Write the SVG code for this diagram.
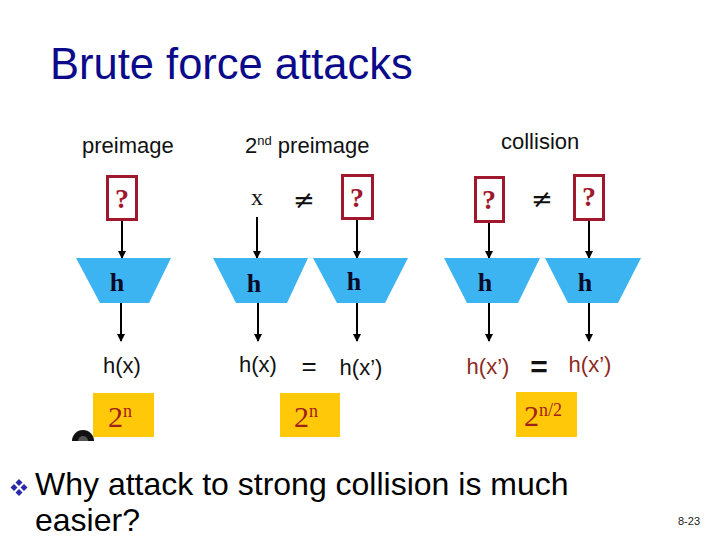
<svg xmlns="http://www.w3.org/2000/svg" width="720" height="540" viewBox="0 0 720 540">
<defs>
<style>
.title{font-family:"Liberation Sans",Arial,sans-serif;font-size:43.5px;fill:#0A0A8A}
.hdr{font-family:"Liberation Sans",Arial,sans-serif;font-size:22px;fill:#111}
.qbox{fill:#fff;stroke:#A0182E;stroke-width:3}
.q{font-family:"Liberation Serif","Times New Roman",serif;font-weight:bold;font-size:28px;fill:#A0182E;text-anchor:middle}
.trap{fill:#3DB4F2}
.h{font-family:"Liberation Serif","Times New Roman",serif;font-weight:bold;font-size:26px;fill:#0A0A28;text-anchor:middle}
.hx{font-family:"Liberation Sans",Arial,sans-serif;font-size:22px;fill:#111;text-anchor:middle}
.hxr{font-family:"Liberation Sans",Arial,sans-serif;font-size:22px;fill:#8E2A22;text-anchor:middle}
.ybox{fill:#FFC90A}
.pw{font-family:"Liberation Serif","Times New Roman",serif;font-size:30px;fill:#A0201A}
.sym{font-family:"DejaVu Sans",sans-serif;font-size:26px;fill:#111;text-anchor:middle}
.eq{font-family:"Liberation Sans",Arial,sans-serif;font-size:26px;fill:#111;text-anchor:middle}
.body{font-family:"Liberation Sans",Arial,sans-serif;font-size:32px;fill:#000}
.pg{font-family:"Liberation Sans",Arial,sans-serif;font-size:11px;fill:#222}
.conn line{stroke:#000;stroke-width:2}
</style>
<marker id="ah" markerWidth="8" markerHeight="8" refX="7" refY="4" orient="auto" markerUnits="userSpaceOnUse">
<path d="M0,0 L8,4 L0,8 Z" fill="#000"/>
</marker>
</defs>
<rect width="720" height="540" fill="#fff"/>
<text class="title" x="50" y="79">Brute force attacks</text>

<g id="headers">
<text class="hdr" x="82" y="153">preimage</text>
<text class="hdr" x="245" y="153">2<tspan font-size="13" dy="-8">nd</tspan><tspan dy="8"> preimage</tspan></text>
<text class="hdr" x="501" y="149">collision</text>
</g>

<g id="connectors" class="conn">
<line x1="122" y1="220" x2="122" y2="258" marker-end="url(#ah)"/>
<line x1="121" y1="303" x2="121" y2="341" marker-end="url(#ah)"/>
<line x1="257" y1="217" x2="257" y2="258" marker-end="url(#ah)"/>
<line x1="258" y1="303" x2="258" y2="341" marker-end="url(#ah)"/>
<line x1="357" y1="219" x2="357" y2="258" marker-end="url(#ah)"/>
<line x1="357" y1="303" x2="357" y2="341" marker-end="url(#ah)"/>
<line x1="489" y1="222" x2="489" y2="258" marker-end="url(#ah)"/>
<line x1="489" y1="303" x2="489" y2="341" marker-end="url(#ah)"/>
<line x1="589" y1="220" x2="589" y2="258" marker-end="url(#ah)"/>
<line x1="589" y1="303" x2="589" y2="341" marker-end="url(#ah)"/>
</g>

<g id="preimage-q">
<rect class="qbox" x="107.5" y="176.5" width="29" height="43"/>
<text class="q" x="122" y="208">?</text>
</g>
<g id="preimage-h">
<polygon class="trap" points="76,258 171,258 149,303 100,303"/>
<text class="h" x="117" y="291">h</text>
</g>
<g id="preimage-out">
<text class="hx" x="122" y="373">h(x)</text>
</g>
<g id="preimage-cost">
<rect class="ybox" x="93" y="393" width="61" height="44"/>
<text class="pw" x="108" y="427">2<tspan font-size="18" dy="-10">n</tspan></text>
</g>

<g id="second-x">
<text x="257" y="205" font-family="Liberation Serif, serif" font-size="24" fill="#111" text-anchor="middle">x</text>
</g>
<g id="second-neq"><text class="sym" x="304" y="209">≠</text></g>
<g id="second-q">
<rect class="qbox" x="342.5" y="175.5" width="30" height="43"/>
<text class="q" x="357" y="207">?</text>
</g>
<g id="second-h1">
<polygon class="trap" points="213,258 308,258 287,303 236,303"/>
<text class="h" x="254" y="292">h</text>
</g>
<g id="second-h2">
<polygon class="trap" points="313,258 408,258 385,303 337,303"/>
<text class="h" x="354" y="290">h</text>
</g>
<g id="second-out">
<text class="hx" x="258" y="372">h(x)</text>
<text class="eq" x="309" y="375">=</text>
<text class="hx" x="361" y="375">h(x’)</text>
</g>
<g id="second-cost">
<rect class="ybox" x="280" y="393" width="60" height="44"/>
<text class="pw" x="294" y="427">2<tspan font-size="18" dy="-10">n</tspan></text>
</g>

<g id="coll-q1">
<rect class="qbox" x="475.5" y="177.5" width="28" height="44"/>
<text class="q" x="489" y="209">?</text>
</g>
<g id="coll-neq"><text class="sym" x="542" y="208">≠</text></g>
<g id="coll-q2">
<rect class="qbox" x="574.5" y="175.5" width="29" height="44"/>
<text class="q" x="589" y="206">?</text>
</g>
<g id="coll-h1">
<polygon class="trap" points="444,258 540,258 518,303 467,303"/>
<text class="h" x="485" y="291">h</text>
</g>
<g id="coll-h2">
<polygon class="trap" points="545,258 641,258 618,303 568,303"/>
<text class="h" x="585" y="291">h</text>
</g>
<g id="coll-out">
<text class="hxr" x="488" y="374">h(x’)</text>
<text x="539" y="377" font-family="Liberation Sans, Arial, sans-serif" font-weight="bold" font-size="30" fill="#111" text-anchor="middle">=</text>
<text class="hxr" x="590" y="372">h(x’)</text>
</g>
<g id="coll-cost">
<rect class="ybox" x="516" y="392" width="61" height="45"/>
<text class="pw" x="524" y="426">2<tspan font-size="18" dy="-10">n/2</tspan></text>
</g>

<g id="icon">
<path d="M72,441 A11,11 0 0 1 94,441 Z" fill="#111"/>
<path d="M78,441 A5,5 0 0 1 88,441 Z" fill="#555"/>
</g>

<g id="bullet" fill="#2A2AA8">
<polygon points="19,479 22.5,482.5 19,486 15.5,482.5"/>
<polygon points="19,489 22.5,492.5 19,496 15.5,492.5"/>
<polygon points="14,484 17.5,487.5 14,491 10.5,487.5"/>
<polygon points="24,484 27.5,487.5 24,491 20.5,487.5"/>
</g>
<text class="body" x="35" y="495">Why attack to strong collision is much</text>
<text class="body" x="35" y="531">easier?</text>
<text class="pg" x="678" y="525">8-23</text>
</svg>
